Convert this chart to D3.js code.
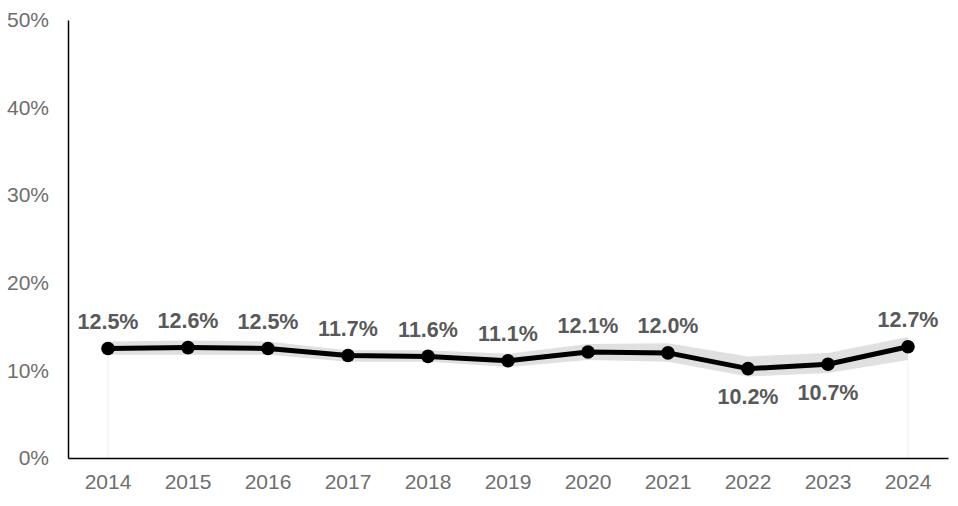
<!DOCTYPE html>
<html><head><meta charset="utf-8">
<script src="https://cdn.jsdelivr.net/npm/d3@7"></script>
<style>body{margin:0;background:#fff}svg{display:block}</style>
</head><body>
<svg id="c" width="958" height="506"></svg>
<script>
const years = ["2014","2015","2016","2017","2018","2019","2020","2021","2022","2023","2024"];
const values = [12.5,12.6,12.5,11.7,11.6,11.1,12.1,12.0,10.2,10.7,12.7];
const lower = [11.8,11.8,11.8,11.0,11.0,10.4,11.2,11.0,9.3,9.7,11.2];
const upper = [13.3,13.4,13.3,12.3,12.3,11.9,13.0,13.1,11.6,12.0,13.8];
const labelBelow = [false,false,false,false,false,false,false,false,true,true,false];
const yTicks = [0,10,20,30,40,50];

const svg = d3.select("#c");
const x = d3.scaleBand().domain(years).range([68,948]);
const y = d3.scaleLinear().domain([0,50]).range([458,20]);
const cx = d => x(d) + x.bandwidth()/2;
const data = years.map((yr,i)=>({yr,v:values[i],lo:lower[i],hi:upper[i],below:labelBelow[i]}));

svg.selectAll("line.drop").data([data[0],data[data.length-1]]).enter().append("line")
  .attr("x1",d=>cx(d.yr)).attr("x2",d=>cx(d.yr)).attr("y1",d=>y(d.lo)).attr("y2",y(0))
  .attr("stroke","#f0f0f0").attr("stroke-width",1);

svg.append("path").datum(data)
  .attr("d", d3.area().x(d=>cx(d.yr)).y0(d=>y(d.lo)).y1(d=>y(d.hi)))
  .attr("fill","#e0e0e0");

const yAxis = svg.append("g").attr("transform","translate(68,0)")
  .call(d3.axisLeft(y).tickValues(yTicks).tickFormat(d=>d+"%").tickSize(0).tickPadding(19));
yAxis.select(".domain").attr("stroke","#000").attr("stroke-width",1.5);
yAxis.selectAll("text").attr("font-family","Liberation Sans, Arial, sans-serif").attr("font-size",21).attr("fill","#6e6e6e");

const xAxis = svg.append("g").attr("transform","translate(0,458)")
  .call(d3.axisBottom(x).tickSize(0).tickPadding(16));
xAxis.select(".domain").attr("stroke","#000").attr("stroke-width",1.5);
xAxis.selectAll("text").attr("font-family","Liberation Sans, Arial, sans-serif").attr("font-size",21).attr("fill","#6e6e6e");

svg.append("path").datum(data)
  .attr("d", d3.line().x(d=>cx(d.yr)).y(d=>y(d.v)))
  .attr("fill","none").attr("stroke","#000").attr("stroke-width",5).attr("stroke-linejoin","round");

svg.selectAll("circle.pt").data(data).enter().append("circle")
  .attr("cx",d=>cx(d.yr)).attr("cy",d=>y(d.v)).attr("r",6.8).attr("fill","#000");

svg.selectAll("text.lbl").data(data).enter().append("text")
  .attr("x",d=>cx(d.yr)).attr("y",d=>y(d.v) + (d.below?28:-27))
  .attr("dy","0.35em").attr("text-anchor","middle")
  .attr("font-family","Liberation Sans, Arial, sans-serif").attr("font-weight","bold")
  .attr("font-size",21.5).attr("fill","#595959")
  .text(d=>d.v.toFixed(1)+"%");
</script>
</body></html>
